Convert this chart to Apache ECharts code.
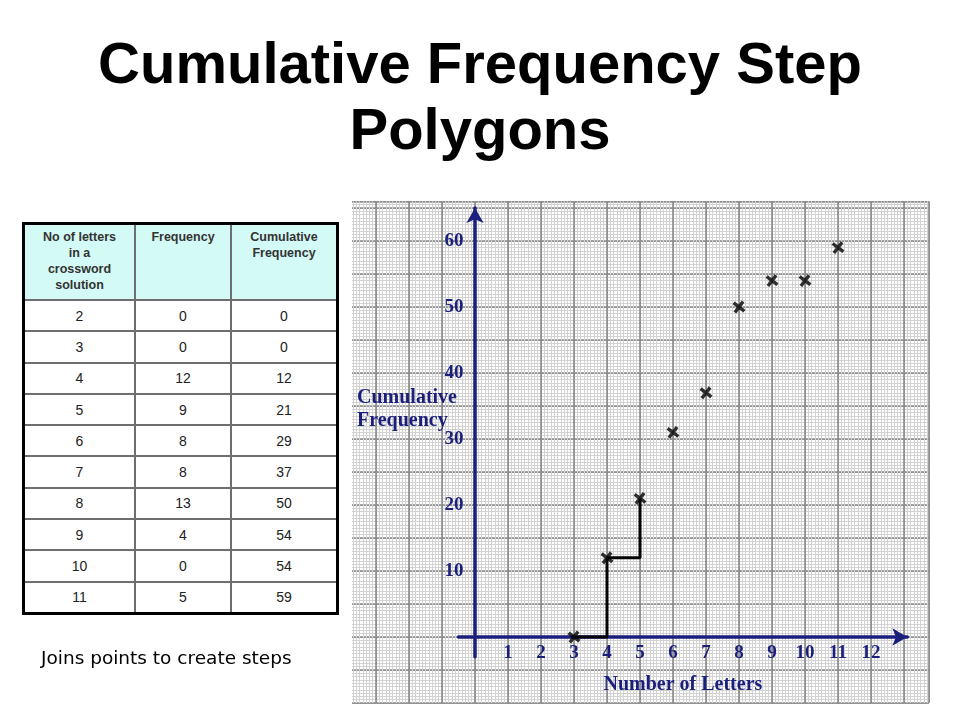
<!DOCTYPE html>
<html>
<head>
<meta charset="utf-8">
<script src="https://cdn.jsdelivr.net/npm/echarts@6/dist/echarts.min.js"></script>
<style>
  html, body { margin: 0; padding: 0; background: #fff; }
  #wrap { position: relative; width: 960px; height: 720px; overflow: hidden; }
  #chart { position: absolute; left: 0; top: 0; width: 960px; height: 720px; }
  #tbl {
    position: absolute; left: 22px; top: 222px; z-index: 5;
    border-collapse: collapse; border: 3px solid #000;
    font-family: "Liberation Sans", Arial, sans-serif; color: #222;
    background: #fff;
  }
  #tbl td, #tbl th { border: 2px solid #6e6e6e; text-align: center; padding: 0; }
  #tbl th {
    background: #d4faf5; font-weight: bold; font-size: 12.5px; line-height: 16px;
    vertical-align: top; height: 70px; padding-top: 4px; color: #333;
  }
  #tbl td { font-size: 14px; height: 29.3px; }
  #caption {
    position: absolute; left: 41px; top: 647px; z-index: 5;
    font-family: "DejaVu Sans", Verdana, sans-serif; font-size: 18.5px; color: #000;
    white-space: nowrap;
  }
</style>
</head>
<body>
<div id="wrap">
  <div id="chart"></div>
  <table id="tbl"><thead><tr id="hdr"></tr></thead><tbody id="tbody"></tbody></table>
  <div id="caption"></div>
</div>
<script>
// ---- data ----
const titleLines = ['Cumulative Frequency Step', 'Polygons'];
const tableHeaders = ['No of letters in a crossword solution', 'Frequency', 'Cumulative Frequency'];
const letters = [2, 3, 4, 5, 6, 7, 8, 9, 10, 11];
const frequency = [0, 0, 12, 9, 8, 8, 13, 4, 0, 5];
const cumulativeFrequency = [0, 0, 12, 21, 29, 37, 50, 54, 54, 59];
// crosses as plotted on the graph paper
const plottedLetters = [3, 4, 5, 6, 7, 8, 9, 10, 11];
const plottedCumulative = [0, 12, 21, 31, 37, 50, 54, 54, 59];
// steps joined so far
const stepLetters = [3, 4, 5];
const stepCumulative = [0, 12, 21];
const xTickLabels = ['1', '2', '3', '4', '5', '6', '7', '8', '9', '10', '11', '12'];
const yTickLabels = ['10', '20', '30', '40', '50', '60'];
const xAxisName = 'Number of Letters';
const yAxisName = 'Cumulative\nFrequency';
const captionText = 'Joins points to create steps';

// ---- table (built from the arrays) ----
const hdr = document.getElementById('hdr');
const colW = [109, 94, 104];
tableHeaders.forEach((h, i) => {
  const th = document.createElement('th');
  th.style.width = colW[i] + 'px';
  th.innerHTML = i === 0 ? 'No of letters<br>in a<br>crossword<br>solution'
               : (i === 2 ? 'Cumulative<br>Frequency' : h);
  hdr.appendChild(th);
});
const tbody = document.getElementById('tbody');
letters.forEach((l, i) => {
  const tr = document.createElement('tr');
  [l, frequency[i], cumulativeFrequency[i]].forEach(v => {
    const td = document.createElement('td'); td.textContent = v; tr.appendChild(td);
  });
  tbody.appendChild(tr);
});
document.getElementById('caption').textContent = captionText;

// ---- layout constants ----
const W = 960, H = 720;
const X0 = 475, Y0 = 637, UX = 33, UY = 6.6;   // pixel of origin, pixels per unit
const paper = { xmin: -4, xmax: 13.75, ymin: -10, ymax: 66 };
const data = { xmin: -0.5, xmax: 13.1, ymin: -3, ymax: 65 };
const gridFor = r => ({
  left: X0 + r.xmin * UX,
  right: W - (X0 + r.xmax * UX),
  top: Y0 - r.ymax * UY,
  bottom: H - (Y0 - r.ymin * UY),
  containLabel: false, show: false
});
const dataGrid = gridFor(data);
const dataBottomPx = H - dataGrid.bottom;

const NAVY = '#1b1f7c';
const SERIF = '"Liberation Serif", "Times New Roman", serif';
const hidden = { axisLine: { show: false }, axisTick: { show: false }, axisLabel: { show: false } };
const crossPath = 'path://M2,0 L5,3 L8,0 L10,2 L7,5 L10,8 L8,10 L5,7 L2,10 L0,8 L3,5 L0,2 Z';

const chart = echarts.init(document.getElementById('chart'), null, { renderer: 'canvas' });
chart.setOption({
  animation: false,
  backgroundColor: '#fff',
  title: {
    text: titleLines.join('\n'),
    left: 'center', top: 29,
    textStyle: {
      fontFamily: '"Liberation Sans", Arial, sans-serif', fontWeight: 'bold',
      fontSize: 58, lineHeight: 66, color: '#000'
    }
  },
  grid: [gridFor(paper), dataGrid],
  xAxis: [
    Object.assign({
      type: 'value', gridIndex: 0, min: paper.xmin, max: paper.xmax, interval: 1, z: 2,
      splitLine: { show: true, lineStyle: { color: '#8a8a8a', width: 1.6 } },
      minorTick: { show: false, splitNumber: 10 },
      minorSplitLine: { show: true, lineStyle: { color: '#d2d2d2', width: 1 } }
    }, hidden),
    Object.assign({
      type: 'value', gridIndex: 0, position: 'top', min: paper.xmin, max: paper.xmax, interval: 0.5, z: 1,
      splitLine: { show: true, lineStyle: { color: '#ababab', width: 1 } }
    }, hidden),
    {
      type: 'value', gridIndex: 1, min: data.xmin, max: data.xmax, interval: 0.5, z: 5,
      axisLine: { show: true, onZero: true, lineStyle: { color: NAVY, width: 3.5 },
                  symbol: ['none', 'arrow'], symbolSize: [13, 15] },
      axisTick: { show: false },
      splitLine: { show: false },
      axisLabel: {
        show: true, margin: -13, color: NAVY,
        fontFamily: SERIF, fontWeight: 'bold', fontSize: 19,
        formatter: v => (Number.isInteger(v) && v >= 1 && v <= xTickLabels.length) ? xTickLabels[v - 1] : ''
      },
      name: xAxisName, nameLocation: 'middle', nameGap: 18,
      nameTextStyle: { color: NAVY, fontFamily: SERIF, fontWeight: 'bold', fontSize: 20 }
    }
  ],
  yAxis: [
    Object.assign({
      type: 'value', gridIndex: 0, min: paper.ymin, max: paper.ymax, interval: 5, z: 2,
      splitLine: { show: true, lineStyle: { color: '#8a8a8a', width: 1.6 } },
      minorTick: { show: false, splitNumber: 10 },
      minorSplitLine: { show: true, lineStyle: { color: '#d2d2d2', width: 1 } }
    }, hidden),
    Object.assign({
      type: 'value', gridIndex: 0, position: 'right', min: paper.ymin, max: paper.ymax, interval: 2.5, z: 1,
      splitLine: { show: true, lineStyle: { color: '#ababab', width: 1 } }
    }, hidden),
    {
      type: 'value', gridIndex: 1, min: data.ymin, max: data.ymax, interval: 1, z: 5,
      axisLine: { show: true, onZero: true, lineStyle: { color: NAVY, width: 3.5 },
                  symbol: ['none', 'arrow'], symbolSize: [13, 15] },
      axisTick: { show: false },
      splitLine: { show: false },
      axisLabel: {
        show: true, margin: -5, color: NAVY,
        fontFamily: SERIF, fontWeight: 'bold', fontSize: 19,
        formatter: v => (v > 0 && v % 10 === 0 && yTickLabels.indexOf(String(v)) >= 0) ? String(v) : ''
      }
    }
  ],
  series: [
    {
      type: 'line', xAxisIndex: 2, yAxisIndex: 2, step: 'end', z: 6,
      data: stepLetters.map((x, i) => [x, stepCumulative[i]]),
      showSymbol: false, symbol: 'none',
      lineStyle: { color: '#000', width: 3 }
    },
    {
      type: 'scatter', xAxisIndex: 2, yAxisIndex: 2, z: 7,
      data: plottedLetters.map((x, i) => [x, plottedCumulative[i]]),
      symbol: crossPath, symbolSize: 12, symbolRotate: 8,
      itemStyle: { color: '#000' }
    }
  ],
  graphic: [
    { type: 'rect', z: 100, shape: { x: 339, y: 190, width: 13, height: 530 },
      style: { fill: '#fff' } },
    { type: 'text', z: 101, x: 357, y: 386,
      style: { text: yAxisName, fill: NAVY, font: 'bold 20px ' + SERIF, lineHeight: 23,
               align: 'left', verticalAlign: 'top' } }
  ]
});
</script>
</body>
</html>
